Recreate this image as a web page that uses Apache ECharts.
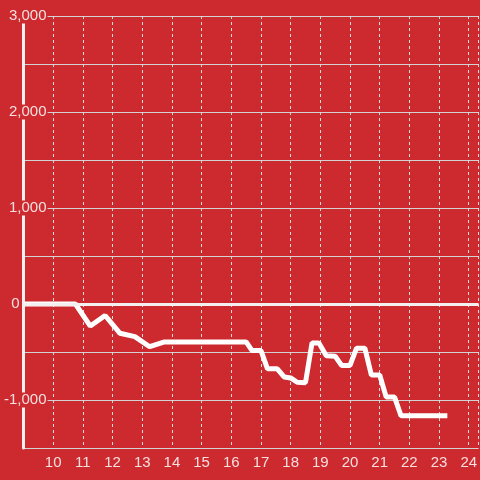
<!DOCTYPE html>
<html>
<head>
<meta charset="utf-8">
<script src="https://cdn.jsdelivr.net/npm/echarts@6/dist/echarts.min.js"></script>
<style>
html,body{margin:0;padding:0;background:#cc2a2f;}
#c{width:480px;height:480px;}
</style>
</head>
<body>
<div id="c"></div>
<script>
var hours = [9, 10.75, 11.25, 11.75, 12.25, 12.75, 13.25, 13.75, 16.5, 16.7, 17.0, 17.22, 17.55, 17.78, 18.0, 18.22, 18.5, 18.72, 18.95, 19.2, 19.5, 19.72, 20.0, 20.22, 20.5, 20.72, 21.0, 21.22, 21.5, 21.72, 23.28];
var values = [0, 0, -230, -120, -305, -340, -445, -395, -395, -485, -485, -675, -675, -760, -770, -815, -820, -405, -405, -540, -545, -640, -640, -460, -460, -740, -740, -970, -970, -1165, -1165];
var xTicks = [10, 11, 12, 13, 14, 15, 16, 17, 18, 19, 20, 21, 22, 23, 24];
var yLabelled = [-1000, 0, 1000, 2000, 3000];

var BG = '#cc2a2f';
var pts = hours.map(function (h, i) { return [h, values[i]]; });
function fmt(v) { return v.toLocaleString('en-US'); }

var chart = echarts.init(document.getElementById('c'));
chart.setOption({
  animation: false,
  backgroundColor: BG,
  grid: { left: 20, right: 0, top: 16, bottom: 32 },
  xAxis: {
    type: 'value', min: 9, max: 24.3333, interval: 1,
    axisLine: { show: false }, axisTick: { show: false },
    axisLabel: {
      margin: 7, color: 'rgba(255,255,255,0.85)', fontSize: 15, fontFamily: 'Liberation Sans',
      showMinLabel: false, showMaxLabel: false,
      formatter: function (v) { return xTicks.indexOf(v) >= 0 ? String(v) : ''; }
    },
    splitLine: { show: true, lineStyle: { color: '#dcdcdc', type: [3, 3], width: 1 } }
  },
  yAxis: [{
    type: 'value', min: -1500, max: 3000, interval: 500, z: 5,
    axisLine: { show: true, lineStyle: { color: '#f4f0f0', width: 3 } },
    axisTick: { show: false },
    splitLine: { show: false },
    axisLabel: {
      margin: -24, color: 'rgba(255,255,255,0.85)', fontSize: 15, fontFamily: 'Liberation Sans',
      formatter: function (v) {
        if (yLabelled.indexOf(v) < 0) return '';
        if (v === 0) return '{z|0}';
        return '{b|' + fmt(v) + '}';
      },
      rich: {
        b: { backgroundColor: BG, padding: [0, 1, 0, 1], lineHeight: 16, color: 'rgba(255,255,255,0.85)', fontSize: 15, fontFamily: 'Liberation Sans' },
        z: { padding: [0, 28, 0, 0], color: 'rgba(255,255,255,0.85)', fontSize: 15, fontFamily: 'Liberation Sans' }
      }
    }
  }, {
    type: 'value', min: -1500, max: 3000, interval: 500, z: 0, position: 'left',
    axisLine: { show: false }, axisTick: { show: false }, axisLabel: { show: false },
    splitLine: { show: true, lineStyle: { color: '#d2d2d2', width: 1 } }
  }],
  series: [{
    type: 'line', data: pts, yAxisIndex: 0, showSymbol: false, symbol: 'none',
    lineStyle: { color: '#ffffff', width: 5 },
    markLine: {
      silent: true, symbol: 'none', label: { show: false },
      lineStyle: { color: '#f4f0f0', width: 3, type: 'solid' },
      data: [{ yAxis: 0 }]
    }
  }]
});
</script>
</body>
</html>
